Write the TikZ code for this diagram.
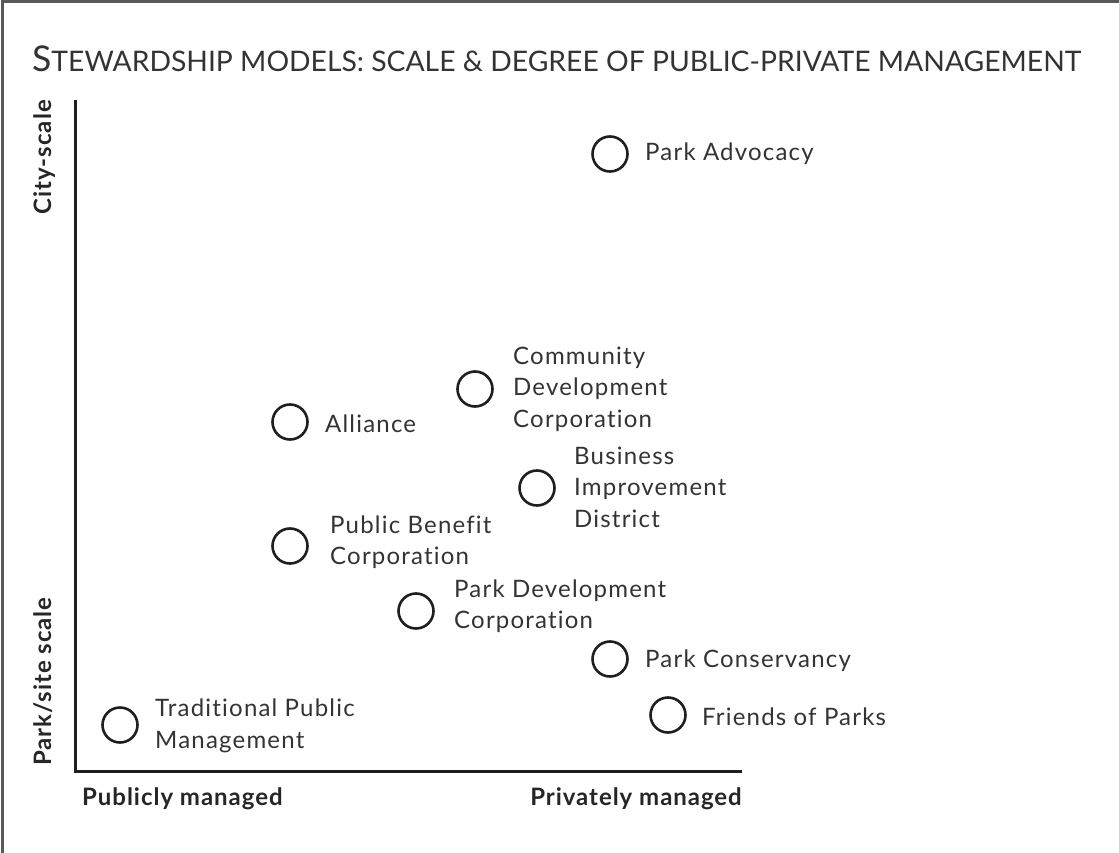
\documentclass[tikz,border=0pt]{standalone}
\usepackage{fontspec}
\setmainfont{Lato}[Ligatures={NoCommon,NoContextual}]
\begin{document}
\begin{tikzpicture}[x=1pt,y=-1pt,
  dot/.style={circle,draw=black!88,line width=2.6pt,minimum size=35pt,inner sep=0pt},
  lbl/.style={anchor=west,align=left,inner sep=0pt,text=black!80,font=\fontsize{24}{31.5}\selectfont\addfontfeature{LetterSpace=5}},
  axlbl/.style={inner sep=0pt,text=black!85,font=\fontsize{24}{26}\selectfont\bfseries\addfontfeature{LetterSpace=4}},
  axis/.style={line width=3pt,draw=black!88}]
\useasboundingbox (0,0) rectangle (1119,853);
% frame
\coordinate (fa) at (2.5,853);
\coordinate (fb) at (2.5,1.5);
\coordinate (fc) at (1119,1.5);
\draw[line width=2.5pt,draw=black!65] (fa) -- (fb) -- (fc);
% title
\node[anchor=base west,inner sep=0pt,text=black!80] (title) at (32,72)
  {\fontsize{35.5}{36}\selectfont S\fontsize{28.3}{36}\selectfont TEWARDSHIP MODELS: SCALE \& DEGREE OF PUBLIC-PRIVATE MANAGEMENT};
% axes
\coordinate (ytop) at (75,100);
\coordinate (org) at (75,771);
\coordinate (xend) at (742,771);
\draw[axis] (ytop) -- (org) -- (xend);
\node[axlbl,rotate=90,anchor=north east] (city) at (33,100) {City-scale};
\node[axlbl,rotate=90,anchor=north west] (site) at (33,766) {Park/site scale};
\node[axlbl,anchor=north west] (pub) at (82,787) {Publicly managed};
\node[axlbl,anchor=north east] (priv) at (742,787) {Privately managed};
% items
\node[dot] (pa) at (610,154) {};
\node[lbl] (pat) at (645,154) {Park Advocacy};
\node[dot] (cdc) at (475,389) {};
\node[lbl] (cdct) at (513,389) {Community\\Development\\Corporation};
\node[dot] (al) at (290,422) {};
\node[lbl] (alt) at (325,424) {Alliance};
\node[dot] (bid) at (537,488) {};
\node[lbl] (bidt) at (574,487) {Business\\Improvement\\District};
\node[dot] (pbc) at (290,546) {};
\node[lbl] (pbct) at (330,542) {Public Benefit\\Corporation};
\node[dot] (pdc) at (416,611) {};
\node[lbl] (pdct) at (454,606) {Park Development\\Corporation};
\node[dot] (pc) at (610,659) {};
\node[lbl] (pct) at (645,661) {Park Conservancy};
\node[dot] (fp) at (668,715) {};
\node[lbl] (fpt) at (702,717) {Friends of Parks};
\node[dot] (tpm) at (120,725) {};
\node[lbl] (tpmt) at (155,726) {Traditional Public\\Management};
\end{tikzpicture}
\end{document}
